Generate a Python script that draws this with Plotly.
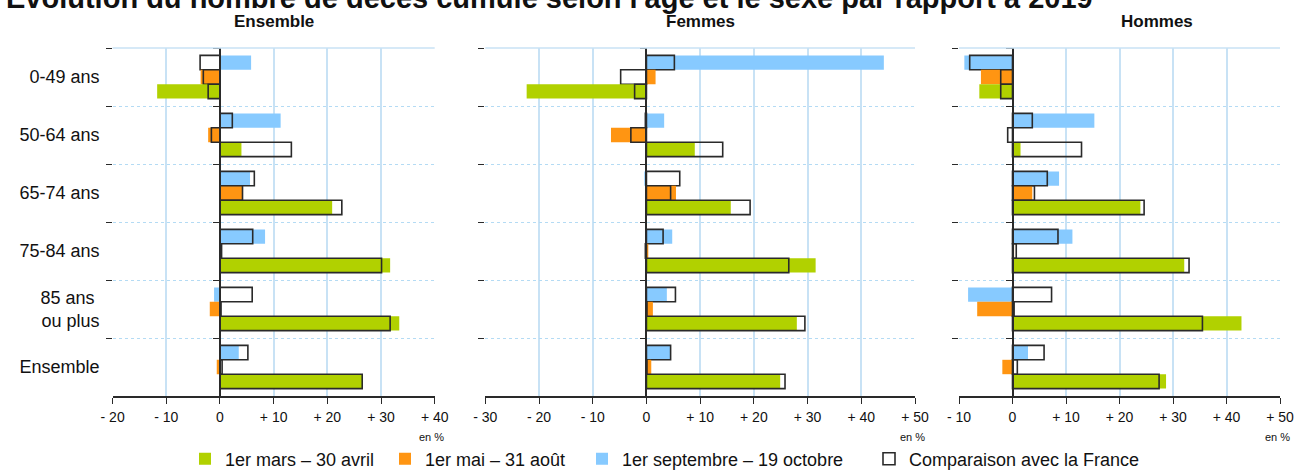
import plotly.graph_objects as go

# ---------------- data ----------------
categories = ["0-49 ans", "50-64 ans", "65-74 ans", "75-84 ans", "85 ans&nbsp;<br>ou plus", "Ensemble"]
panel_titles = ["Ensemble", "Femmes", "Hommes"]
period_names = ["1er mars – 30 avril", "1er mai – 31 août", "1er septembre – 19 octobre"]
france_name = "Comparaison avec la France"

# Ensemble
ens_mars_avril = [-11.7, 4.0, 20.9, 31.7, 33.4, 26.5]
ens_mars_avril_fr = [-2.2, 13.3, 22.7, 30.1, 31.7, 26.5]
ens_mai_aout = [-3.6, -2.2, 4.2, 0.2, -1.9, -0.6]
ens_mai_aout_fr = [-3.1, -1.6, 4.2, 0.3, 0.2, 0.4]
ens_sept_oct = [5.8, 11.3, 5.6, 8.4, -1.1, 3.5]
ens_sept_oct_fr = [-3.7, 2.3, 6.4, 6.1, 6.0, 5.2]

# Femmes
fem_mars_avril = [-22.3, 9.0, 15.7, 31.5, 28.0, 24.9]
fem_mars_avril_fr = [-2.2, 14.2, 19.3, 26.5, 29.5, 25.8]
fem_mai_aout = [1.7, -6.6, 5.5, 0.3, 1.2, 0.9]
fem_mai_aout_fr = [-4.8, -2.9, 4.5, -0.2, 0.1, 0.1]
fem_sept_oct = [44.2, 3.3, -0.4, 4.8, 3.8, 4.5]
fem_sept_oct_fr = [5.2, -0.2, 6.2, 3.1, 5.4, 4.5]

# Hommes
hom_mars_avril = [-6.2, 1.5, 23.9, 32.1, 42.8, 28.7]
hom_mars_avril_fr = [-2.2, 12.9, 24.6, 33.0, 35.5, 27.4]
hom_mai_aout = [-5.9, 0.0, 3.7, 0.3, -6.6, -1.9]
hom_mai_aout_fr = [-2.2, -0.9, 4.1, 0.7, 0.3, 0.9]
hom_sept_oct = [-9.0, 15.3, 8.7, 11.2, -8.3, 2.9]
hom_sept_oct_fr = [-8.0, 3.7, 6.5, 8.5, 7.3, 5.9]

x_ranges = [[-20, 40], [-30, 50], [-10, 50]]

# ---------------- styling ----------------
W, H = 1297, 470
GREEN, ORANGE, BLUE = "#b1d100", "#ff9512", "#87caff"
GRID = "#c8e2f5"
DOT = "#b4dbf4"
DARK = "#2a2a2a"
FONT = "Liberation Sans, Arial, sans-serif"

x_dom_px = [(112.6, 434.7), (485.3, 915.0), (959.0, 1280.0)]
y_dom = [(H - 396) / H, (H - 48) / H]

panels = [
    (ens_mars_avril, ens_mars_avril_fr, ens_mai_aout, ens_mai_aout_fr, ens_sept_oct, ens_sept_oct_fr),
    (fem_mars_avril, fem_mars_avril_fr, fem_mai_aout, fem_mai_aout_fr, fem_sept_oct, fem_sept_oct_fr),
    (hom_mars_avril, hom_mars_avril_fr, hom_mai_aout, hom_mai_aout_fr, hom_sept_oct, hom_sept_oct_fr),
]

# legend ids for each series (separate legends -> separate positions)
legend_of = {"ma": "legend", "mj": "legend2", "so": "legend3", "fr": "legend4"}
legend_text_x = {"legend": 225, "legend2": 425, "legend3": 622, "legend4": 909}

fig = go.Figure()

for p, data in enumerate(panels):
    ma, ma_fr, mj, mj_fr, so, so_fr = data
    xa = "x" if p == 0 else f"x{p+1}"
    ya = "y" if p == 0 else f"y{p+1}"
    # order top -> bottom: sept-oct, mai-aout, mars-avril
    series = [
        ("so", so, so_fr, BLUE, period_names[2]),
        ("mj", mj, mj_fr, ORANGE, period_names[1]),
        ("ma", ma, ma_fr, GREEN, period_names[0]),
    ]
    for key, vals, fr, col, name in series:
        fig.add_trace(go.Bar(
            x=vals, y=categories, orientation="h", xaxis=xa, yaxis=ya,
            offsetgroup=key, name=name, legendgroup=key, legend=legend_of[key],
            showlegend=(p == 0), marker=dict(color=col, line=dict(width=0)),
        ))
        fig.add_trace(go.Bar(
            x=fr, y=categories, orientation="h", xaxis=xa, yaxis=ya,
            offsetgroup=key, name=france_name, legendgroup="fr", legend=legend_of["fr"],
            showlegend=(p == 0 and key == "ma"),
            marker=dict(color="rgba(255,255,255,0)", line=dict(width=1.6, color=DARK)),
        ))
    # dummy trace for zero-line axis
    fig.add_trace(go.Scatter(x=[None], y=[None], xaxis=xa, yaxis=f"y{p+4}",
                             showlegend=False, hoverinfo="skip"))

layout = dict(
    width=W, height=H,
    margin=dict(l=0, r=0, t=0, b=0, autoexpand=False),
    paper_bgcolor="white", plot_bgcolor="white",
    barmode="group", bargap=0.255, bargroupgap=0,
    font=dict(family=FONT, color="#111"),
    showlegend=True,
)
for lg, tx in legend_text_x.items():
    layout[lg] = dict(orientation="h", x=(tx - 40) / W, xanchor="left",
                      y=(H - 459) / H, yanchor="middle",
                      font=dict(size=18, family=FONT, color="#111"),
                      itemclick=False, itemdoubleclick=False,
                      bgcolor="rgba(0,0,0,0)", borderwidth=0)

annotations = []
shapes = []
for p in range(3):
    sfx = "" if p == 0 else str(p + 1)
    r0, r1 = x_ranges[p]
    d0, d1 = x_dom_px[p][0] / W, x_dom_px[p][1] / W
    tv = list(range(r0, r1 + 1, 10))
    tt = [("- %d" % abs(v)) if v < 0 else ("0" if v == 0 else "+ %d" % v) for v in tv]
    layout["xaxis" + sfx] = dict(
        domain=[d0, d1], range=[r0, r1], anchor="y" + sfx,
        tickmode="array", tickvals=tv, ticktext=tt,
        showgrid=True, gridcolor=GRID, gridwidth=1.5, zeroline=False,
        showline=True, linecolor=DARK, linewidth=1.5,
        ticks="outside", ticklen=6, tickcolor=DARK, tickwidth=1.2,
        ticklabelstandoff=1,
        tickfont=dict(size=14, family=FONT, color="#111"), automargin=False,
    )
    layout["yaxis" + sfx] = dict(
        domain=list(y_dom), anchor="x" + sfx, type="category",
        categoryorder="array", categoryarray=categories, range=[5.5, -0.5],
        tickson="boundaries", showgrid=True, gridcolor=DOT, griddash="dot", gridwidth=1.3,
        ticks="outside", ticklen=6, tickcolor=DARK, tickwidth=1.2,
        showticklabels=(p == 0), tickfont=dict(size=18, family=FONT, color="#111"),
        ticklabelstandoff=12, showline=False, zeroline=False, automargin=False,
    )
    zero_pos = d0 + (0 - r0) / (r1 - r0) * (d1 - d0)
    layout[f"yaxis{p+4}"] = dict(
        overlaying="y" + sfx, anchor="free", position=zero_pos, side="left",
        type="linear", range=[5.5, -0.5], tickmode="array",
        tickvals=[-0.5, 0.5, 1.5, 2.5, 3.5, 4.5, 5.5],
        ticks="outside", ticklen=6, tickcolor=DARK, tickwidth=1.2,
        showticklabels=False, showgrid=False, zeroline=False,
        showline=True, linecolor=DARK, linewidth=1.5,
    )
    # top border of panel
    shapes.append(dict(type="line", xref=f"x{sfx} domain", yref=f"y{sfx} domain",
                       x0=0, x1=1, y0=1, y1=1, line=dict(color=GRID, width=1.5)))
    # "en %" label
    annotations.append(dict(text="en %", x=d1 - 3 / W, y=(H - 437) / H, xref="paper", yref="paper",
                            xanchor="center", yanchor="middle", showarrow=False,
                            font=dict(size=11, family=FONT, color="#111")))

title_x_px = [273.6, 700.0, 1157.0]
for p, t in enumerate(panel_titles):
    annotations.append(dict(text="<b>%s</b>" % t, x=title_x_px[p] / W, y=(H - 21) / H,
                            xref="paper", yref="paper", xanchor="center", yanchor="middle",
                            showarrow=False, font=dict(size=17, family=FONT, color="#111")))

annotations.append(dict(text="<b>Évolution du nombre de décès cumulé selon l'âge et le sexe par rapport à 2019</b>",
                        x=4 / W, y=(H + 3) / H, xref="paper", yref="paper",
                        xanchor="left", yanchor="middle", showarrow=False,
                        font=dict(size=29, family=FONT, color="#111")))

layout["annotations"] = annotations
layout["shapes"] = shapes
fig.update_layout(**layout)

fig.write_html("out.html", config={"displayModeBar": False},
               post_script="document.body.style.margin='0';")
